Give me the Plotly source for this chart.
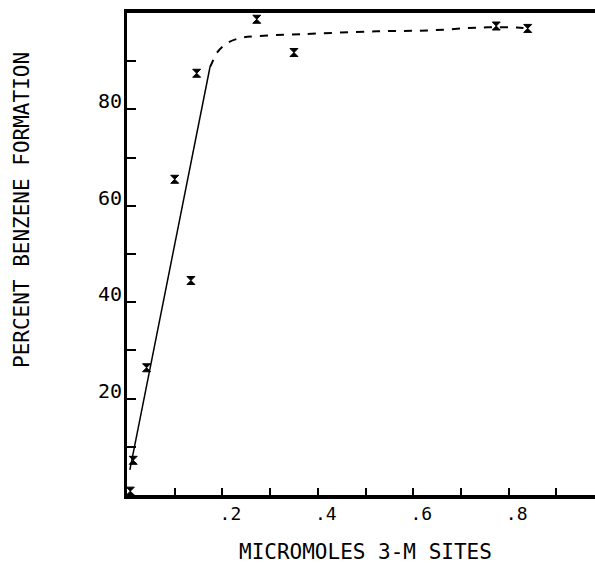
import plotly.graph_objects as go

# Measured points (micromoles 3-M sites vs percent benzene formation)
sites = [0.007, 0.013, 0.041, 0.100, 0.134, 0.146, 0.272, 0.350, 0.774, 0.840]
benzene = [0.8, 7.2, 26.4, 65.5, 44.5, 87.5, 98.7, 91.8, 97.3, 96.8]

# Solid linear segment
fit_x = [0.006, 0.174]
fit_y = [5.2, 88.8]

# Dashed plateau curve
curve_x = [0.174, 0.178, 0.188, 0.209, 0.237, 0.272, 0.363, 0.523, 0.635, 0.744, 0.817, 0.840]
curve_y = [88.8, 89.6, 91.7, 93.7, 94.8, 95.2, 95.6, 96.2, 96.4, 97.0, 97.0, 96.8]

x_ticks = [0.1, 0.2, 0.3, 0.4, 0.5, 0.6, 0.7, 0.8, 0.9]
x_labels = ["", ".2", "", ".4", "", ".6", "", ".8", ""]
y_ticks = [10, 20, 30, 40, 50, 60, 70, 80, 90]
y_labels = ["", "20", "", "40", "", "60", "", "80", ""]

FONT = "DejaVu Sans Mono"
L, R, T, B = 127, 0, 13, 68
W, H = 595, 563

fig = go.Figure()
fig.add_trace(go.Scatter(x=fit_x, y=fit_y, mode="lines",
                         line=dict(color="black", width=1.5), showlegend=False))
fig.add_trace(go.Scatter(x=curve_x, y=curve_y, mode="lines", line_shape="spline",
                         line=dict(color="black", width=2, dash="8px,8px"), showlegend=False))
fig.add_trace(go.Scatter(x=sites, y=benzene, mode="markers", cliponaxis=False,
                         marker=dict(symbol="hourglass", size=8, color="black",
                                     line=dict(color="black", width=1)),
                         showlegend=False))

fig.update_layout(
    width=W, height=H,
    margin=dict(l=L, r=R, t=T, b=B, autoexpand=False),
    paper_bgcolor="white", plot_bgcolor="white",
    font=dict(family=FONT, color="black", size=18),
    xaxis=dict(range=[0, 0.981], showgrid=False, zeroline=False, automargin=False,
               showline=True, linecolor="black", linewidth=3.5, mirror=True,
               tickmode="array", tickvals=x_ticks, ticktext=x_labels,
               ticks="inside", ticklen=7, tickwidth=1.5, tickcolor="black",
               ticklabelshift=8, ticklabelstandoff=0,
               tickfont=dict(family=FONT, size=18)),
    yaxis=dict(range=[0, 100], showgrid=False, zeroline=False, automargin=False,
               showline=True, linecolor="black", linewidth=3,
               tickmode="array", tickvals=y_ticks, ticktext=y_labels,
               ticks="inside", ticklen=9, tickwidth=1.5, tickcolor="black",
               ticklabelshift=-8, ticklabelstandoff=-2,
               tickfont=dict(family=FONT, size=20)),
)
pw, ph = W - L - R, H - T - B
fig.add_annotation(text="MICROMOLES 3-M SITES", xref="paper", yref="paper",
                   x=(365 - L) / pw, y=(H - B - 552) / ph,
                   xanchor="center", yanchor="middle",
                   showarrow=False, font=dict(family=FONT, size=21))
fig.add_annotation(text="PERCENT BENZENE FORMATION", xref="paper", yref="paper",
                   x=(22 - L) / pw, y=(H - B - 210) / ph, textangle=-90,
                   xanchor="center", yanchor="middle",
                   showarrow=False, font=dict(family=FONT, size=21))

fig.write_html("out.html", config={"displayModeBar": False},
               post_script="document.body.style.margin='0';document.body.style.overflow='hidden';")
